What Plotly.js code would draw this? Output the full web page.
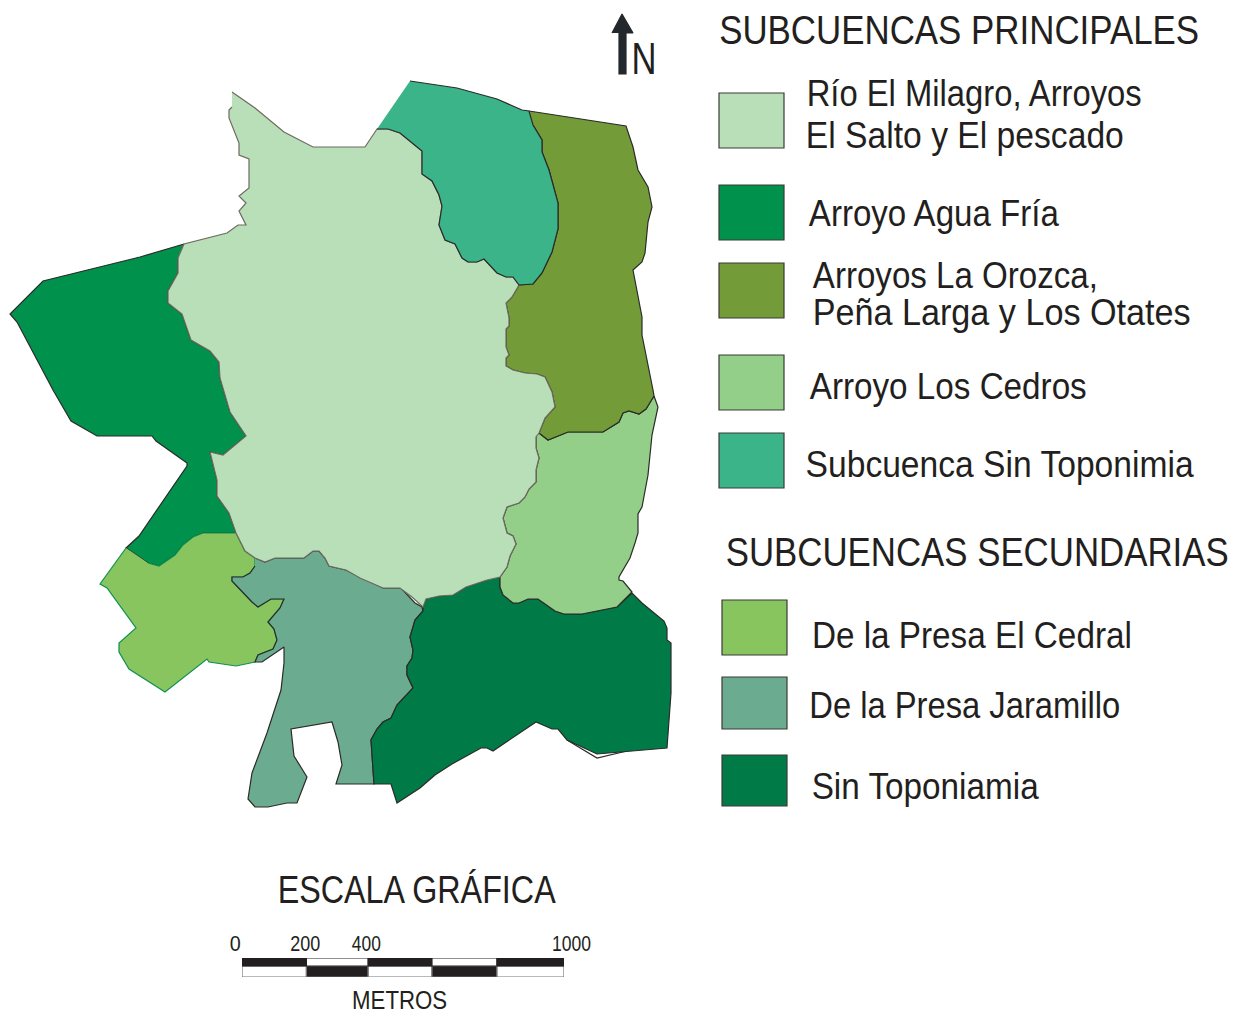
<!DOCTYPE html>
<html>
<head>
<meta charset="utf-8">
<script src="https://cdn.plot.ly/plotly-3.0.1.min.js"></script>
<style>
  html, body { margin: 0; padding: 0; background: #fff; }
  #map { width: 1233px; height: 1011px; }
</style>
</head>
<body>
<div id="map"></div>
<script>
// Subbasin outlines
var rioMilagroX = [232,255,284,313,365,377,388,400,422,422,432,439,442,439,445,455,462,468,477,484,497,506,513,519,512,506,509,509,506,506,509,506,506,513,525,537,545,552,555,545,539,536,536,539,536,536,529,525,519,507,503,507,513,516,510,507,500,487,466,453,439,426,423,412,400,383,360,346,329,325,319,313,304,275,265,255,245,236,229,217,217,210,223,246,230,220,219,210,191,182,168,168,178,178,184,227,238,246,239,246,239,249,249,239,239,229,229,232];
var rioMilagroY = [92,108,132,147,147,129,129,133,151,174,181,195,206,225,240,244,258,262,262,259,273,277,277,285,297,303,318,326,329,347,355,358,366,370,373,374,377,392,407,418,433,437,448,458,470,482,489,497,503,507,518,533,536,544,556,567,577,580,587,595,596,599,607,597,588,588,578,570,566,558,551,551,558,558,562,558,551,533,513,496,480,452,455,436,412,378,362,351,340,314,303,291,273,258,244,233,225,225,211,203,196,188,159,155,143,118,110,107];

var aguaFriaX = [184,140,43,10,17,53,71,97,152,156,187,187,139,126,148,159,175,183,193,203,236,229,217,217,210,223,246,230,220,219,210,191,182,168,168,178,178];
var aguaFriaY = [244,257,281,314,322,390,421,436,436,441,463,466,536,548,563,566,555,545,537,533,533,513,496,480,452,455,436,412,378,362,351,340,314,303,291,273,258];

var orozcaX = [529,626,633,638,648,652,648,645,642,633,642,642,653,654,646,639,629,623,619,603,568,548,539,545,555,552,545,537,525,513,506,506,509,506,506,509,509,506,512,519,533,542,552,558,558,549,542,542,533];
var orozcaY = [111,126,147,170,187,207,222,253,262,270,317,335,390,396,409,414,411,413,422,432,432,440,433,418,407,392,377,374,373,370,366,358,355,347,329,326,318,303,297,285,284,273,252,229,203,170,152,140,125];

var cedrosX = [539,548,568,603,619,623,629,639,646,654,658,652,648,642,638,638,635,630,619,619,623,632,617,582,564,555,538,528,519,513,503,500,500,507,510,516,513,507,503,507,519,525,529,536,536,539,536,536];
var cedrosY = [433,440,432,432,422,413,411,414,409,396,407,435,475,507,514,533,543,558,577,580,581,592,607,614,614,611,599,599,603,603,595,587,577,567,556,544,536,533,518,507,503,497,489,482,470,458,448,437];

var sinNombreX = [410,457,497,522,529,533,542,542,549,558,558,552,542,533,519,513,506,497,484,477,468,462,455,445,439,442,439,432,422,422,400,388,377];
var sinNombreY = [81,88,99,110,111,125,140,152,170,203,229,252,273,284,285,277,277,273,259,262,262,258,244,240,225,206,195,181,174,151,133,129,129];

var cedralX = [126,100,107,136,119,119,129,165,207,209,236,255,258,273,277,274,268,280,284,271,258,252,232,232,243,250,255,255,245,236,203,193,183,175,159,148];
var cedralY = [548,584,588,628,643,652,669,692,659,662,666,662,655,649,640,629,622,608,599,599,607,602,581,577,577,573,566,558,551,533,533,537,545,555,566,563];

var jaramilloX = [255,265,275,304,313,319,325,329,346,383,401,415,422,423,415,410,413,412,407,407,413,397,391,383,377,371,374,336,342,338,332,291,294,307,297,287,268,255,248,252,267,281,284,284,262,255,258,273,277,274,268,280,284,271,258,252,232,232,243,250,255];
var jaramilloY = [558,562,558,558,551,551,558,566,570,588,588,603,607,611,620,637,650,658,666,675,688,705,718,722,729,740,784,784,765,742,722,729,756,777,803,803,807,807,799,773,733,690,663,647,662,662,655,649,640,629,622,608,599,599,607,602,581,577,577,573,566];

var sinToponiamiaX = [500,500,503,513,519,528,538,555,564,582,617,632,642,664,667,667,671,671,667,627,597,567,558,552,536,493,487,481,452,435,420,397,391,374,371,377,383,391,397,413,407,407,412,413,410,415,423,423,426,439,453,466,487];
var sinToponiamiaY = [577,587,595,603,603,599,599,611,614,614,607,593,603,621,628,640,643,693,748,751,754,740,729,729,722,751,748,748,764,775,788,803,784,784,740,729,722,718,705,688,675,666,658,650,637,620,611,607,599,596,595,587,580];

// thin white sliver under the south edge
var sliverX = [567,597,627];
var sliverY = [740,758,751];

var northArrowX = [612,622,633,626,626,619,619];
var northArrowY = [33,14,33,33,74,74,33];

// Scale bar breaks in metres, as drawn (the cells are not quite even in the source)
var scaleBreaks = [0,200,392,590,792,1000];

// Legend
var legendPrimary = [
  ['Río El Milagro, Arroyos', 'El Salto y El pescado'],
  ['Arroyo Agua Fría'],
  ['Arroyos La Orozca,', 'Peña Larga y Los Otates'],
  ['Arroyo Los Cedros'],
  ['Subcuenca Sin Toponimia']
];
var legendSecondary = ['De la Presa El Cedral', 'De la Presa Jaramillo', 'Sin Toponiamia'];
var primaryColors = ['#b8dfb8','#00914c','#739c39','#93cf88','#3cb489'];
var secondaryColors = ['#88c55f','#6bab90','#007a46'];

var DARK = '#2b2b28', GREY = '#6e6a60', TEXT = '#231f20';

function polygon(x, y, color, lineColor) {
  return {
    x: x, y: y,
    type: 'scatter', mode: 'lines', fill: 'toself', fillcolor: color,
    line: { color: lineColor, width: 1.2 },
    hoverinfo: 'skip', showlegend: false
  };
}

// order matters: each border takes the colour of whatever is drawn last
var data = [
  polygon(aguaFriaX, aguaFriaY, primaryColors[1], DARK),
  polygon(cedralX, cedralY, secondaryColors[0], '#0f9150'),
  polygon(jaramilloX, jaramilloY, secondaryColors[1], DARK),
  polygon(sliverX, sliverY, '#ffffff', DARK),
  polygon(sinToponiamiaX, sinToponiamiaY, secondaryColors[2], DARK),
  polygon(cedrosX, cedrosY, primaryColors[3], DARK),
  polygon(orozcaX, orozcaY, primaryColors[2], DARK),
  polygon(rioMilagroX, rioMilagroY, primaryColors[0], GREY),
  polygon(sinNombreX, sinNombreY, primaryColors[4], DARK),
  polygon(northArrowX, northArrowY, '#23282d', '#23282d')
];

// scale bar on its own axes, so the breaks go through a real scale
for (var i = 0; i < scaleBreaks.length - 1; i++) {
  var x0 = scaleBreaks[i], x1 = scaleBreaks[i + 1];
  var upperFill = i % 2 == 0 ? TEXT : '#ffffff';
  var lowerFill = i % 2 == 0 ? '#ffffff' : TEXT;
  var upperCell = polygon([x0,x1,x1,x0,x0], [1,1,0.58,0.58,1], upperFill, TEXT);
  var lowerCell = polygon([x0,x1,x1,x0,x0], [0.58,0.58,0,0,0.58], lowerFill, '#777777');
  upperCell.xaxis = lowerCell.xaxis = 'x2';
  upperCell.yaxis = lowerCell.yaxis = 'y2';
  data.push(lowerCell, upperCell);
}

var annotations = [];
var shapes = [];
var labelWidths = [];

// left/right are the pixel extents of the text; the width gets forced after plotting
function label(text, left, right, y, size) {
  labelWidths.push(right - left);
  annotations.push({
    xref: 'x', yref: 'y', x: (left + right) / 2, y: y, text: text, showarrow: false,
    xanchor: 'center', yanchor: 'middle',
    font: { family: '"Liberation Sans", sans-serif', size: size, color: TEXT }
  });
}

function swatch(x, y0, y1, color) {
  shapes.push({
    type: 'rect', xref: 'x', yref: 'y', x0: x, x1: x + 65, y0: y0, y1: y1,
    fillcolor: color, line: { color: '#3a3a36', width: 1.2 }
  });
}

var primaryBoxes = [[93,148],[185,240],[263,318],[355,410],[433,488]];
var primaryLabelX = [[806,1141,806,1124],[809,1059],[813,1098,812,1190],[809,1086],[806,1194]];
var primaryLabelY = [[93,135],[213],[275,312],[386],[464]];
for (var i = 0; i < legendPrimary.length; i++) {
  swatch(719, primaryBoxes[i][0], primaryBoxes[i][1], primaryColors[i]);
  for (var j = 0; j < legendPrimary[i].length; j++) {
    label(legendPrimary[i][j], primaryLabelX[i][2 * j], primaryLabelX[i][2 * j + 1], primaryLabelY[i][j], 37);
  }
}

var secondaryBoxes = [[600,655],[677,729],[755,806]];
var secondaryLabelX = [[812,1132],[809,1120],[812,1039]];
var secondaryLabelY = [635,705,786];
for (var i = 0; i < legendSecondary.length; i++) {
  swatch(722, secondaryBoxes[i][0], secondaryBoxes[i][1], secondaryColors[i]);
  label(legendSecondary[i], secondaryLabelX[i][0], secondaryLabelX[i][1], secondaryLabelY[i], 37);
}

label('SUBCUENCAS PRINCIPALES', 719, 1199, 30, 41);
label('SUBCUENCAS SECUNDARIAS', 725, 1228, 552, 41);
label('N', 631, 656, 58, 44);
label('ESCALA GRÁFICA', 278, 556, 890, 38);
label('0', 229, 240, 943, 22);
label('200', 290, 320, 943, 22);
label('400', 352, 381, 943, 22);
label('1000', 552, 591, 943, 22);
label('METROS', 352, 447, 1000, 26);

var layout = {
  width: 1233, height: 1011,
  margin: { l: 0, r: 0, t: 0, b: 0 },
  paper_bgcolor: '#ffffff', plot_bgcolor: '#ffffff',
  showlegend: false,
  xaxis: { range: [0, 1233], visible: false, fixedrange: true },
  yaxis: { range: [1011, 0], visible: false, fixedrange: true },
  xaxis2: { domain: [242 / 1233, 564 / 1233], range: [0, 1000], visible: false, anchor: 'y2', fixedrange: true },
  yaxis2: { domain: [(1011 - 977) / 1011, (1011 - 958) / 1011], range: [0, 1], visible: false, anchor: 'x2', fixedrange: true },
  annotations: annotations,
  shapes: shapes
};

Plotly.newPlot('map', data, layout, { staticPlot: true }).then(function (gd) {
  // no narrow font installed, so squeeze the glyphs to the source's widths
  var texts = gd.querySelectorAll('text.annotation-text');
  for (var i = 0; i < texts.length; i++) {
    texts[i].setAttribute('textLength', labelWidths[i]);
    texts[i].setAttribute('lengthAdjust', 'spacingAndGlyphs');
  }
});
</script>
</body>
</html>
